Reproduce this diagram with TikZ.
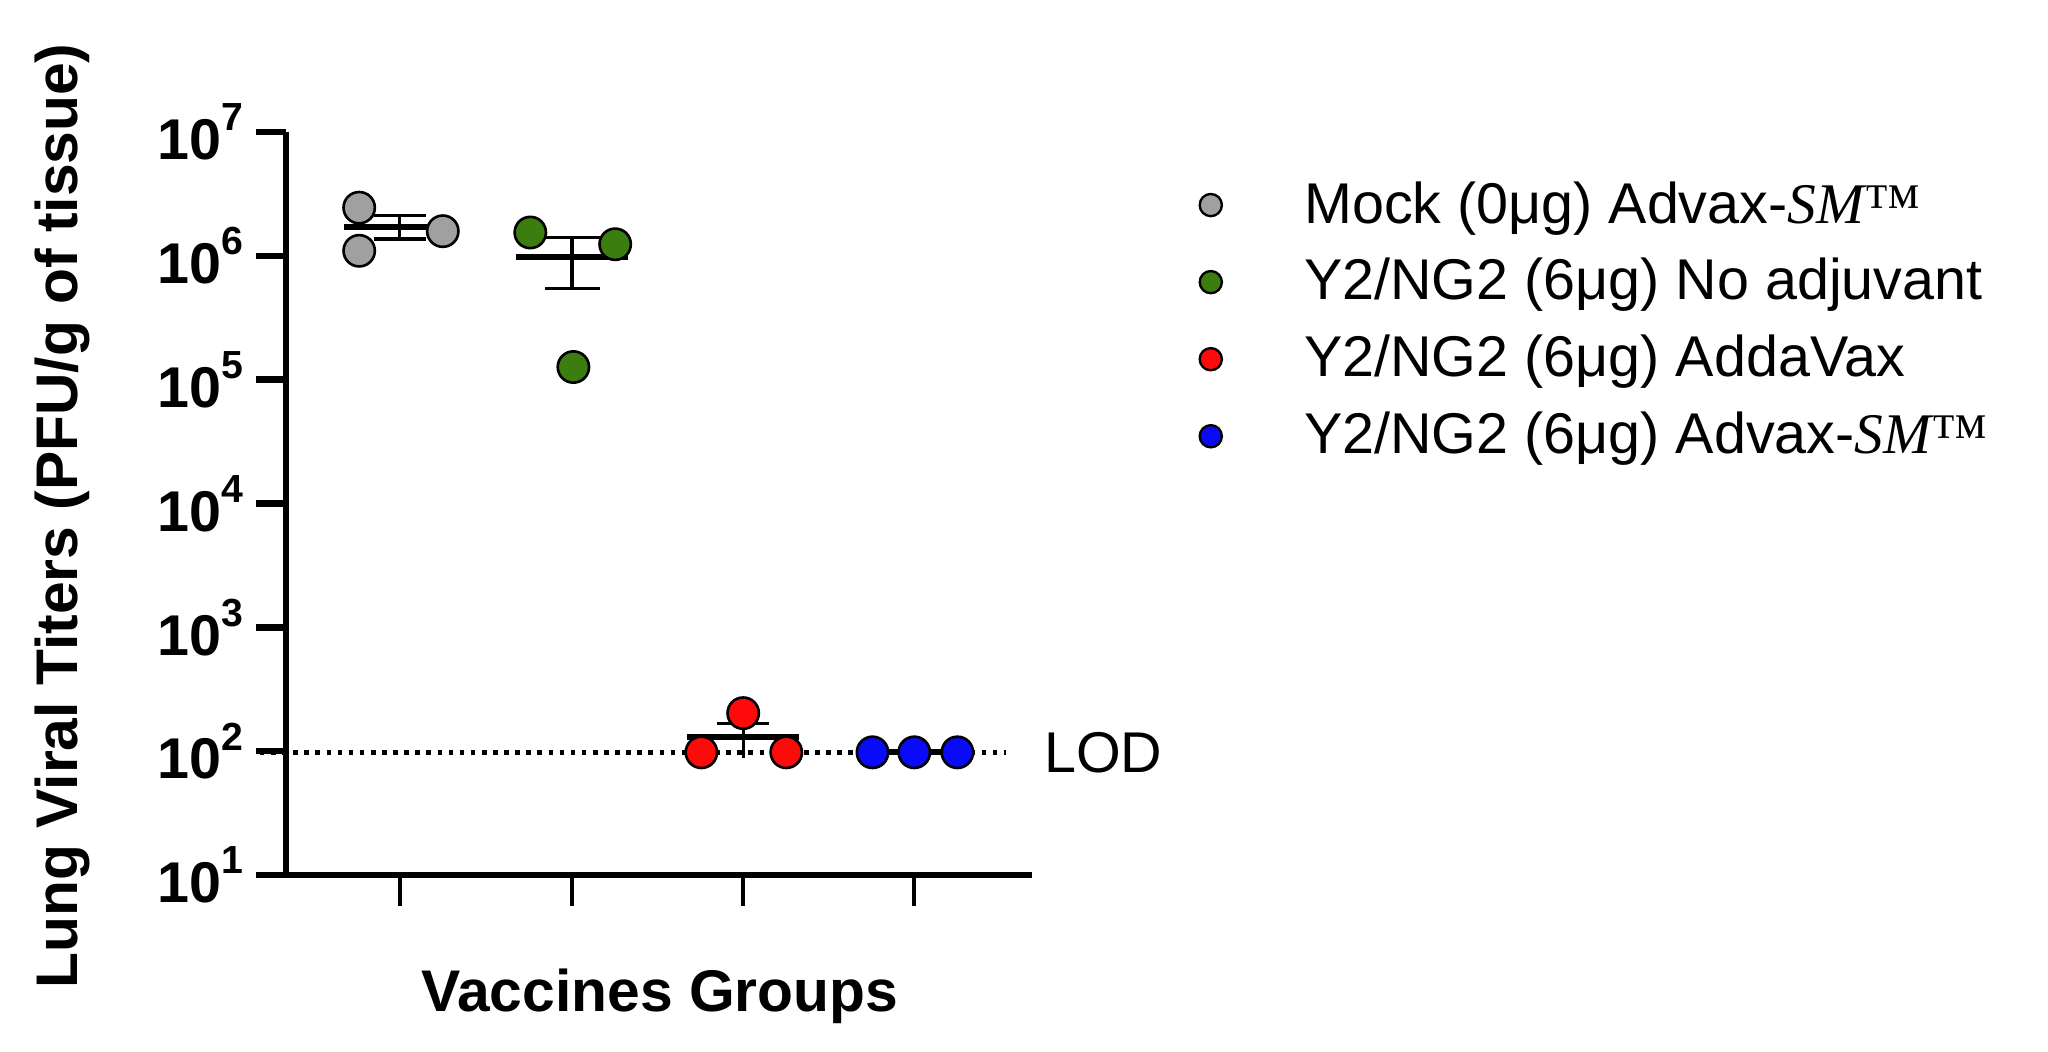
\documentclass[tikz,border=0pt]{standalone}
\usepackage{fontspec}
\setmainfont{Liberation Sans}
\newfontfamily\serifit{Liberation Serif}
\begin{document}
\begin{tikzpicture}[x=1pt,y=-1pt,
  ax/.style={line width=5pt},
  bar/.style={line width=2.5pt},
  mean/.style={line width=4.5pt},
  pt/.style={circle,draw=black,line width=2pt,minimum size=24pt,inner sep=0pt},
  lpt/.style={circle,draw=black,line width=1.8pt,minimum size=17pt,inner sep=0pt},
  tl/.style={anchor=east,font=\fontsize{44}{44}\selectfont\bfseries},
  lt/.style={anchor=west,font=\fontsize{44}{44}\selectfont}]
\useasboundingbox (0,0) rectangle (1568,805);
\definecolor{gr}{RGB}{160,160,160}
\definecolor{gn}{RGB}{60,125,15}
\definecolor{rd}{RGB}{255,10,10}
\definecolor{bl}{RGB}{10,10,250}
% LOD
\coordinate (l0) at (199,576); \coordinate (l1) at (770,576);
\draw[line width=3.5pt,dash pattern=on 3.5pt off 5pt] (l0) -- (l1);
\node[anchor=west,font=\fontsize{44}{44}\selectfont] (lod) at (796,576) {LOD};
% axes
\coordinate (o) at (219,670); \coordinate (top) at (219,101); \coordinate (xe) at (790,670);
\draw[ax] (top) -- (o) -- (xe);
\foreach \k in {1,...,7}{
  \pgfmathsetmacro\yy{101+(7-\k)*94.83}
  \draw[ax] (196,\yy) -- (219,\yy);
  \node[tl] (t\k) at (190,\yy) {10\raisebox{0.5em}{\fontsize{30}{30}\selectfont\k}};
}
\foreach \g/\xx in {1/306,2/438,3/569,4/700}{
  \draw[line width=3pt] (\xx,670) -- (\xx,694);
}
% gray
\draw[bar] (306,165)--(306,183) (286,165)--(326,165) (286,183)--(326,183);
\draw[mean] (263,174)--(349,174);
\node[pt,fill=gr] (g1) at (275,159) {};
\node[pt,fill=gr] (g2) at (275,192) {};
\node[pt,fill=gr] (g3) at (339,177) {};
% green
\draw[bar] (438,182)--(438,221) (417,221)--(459,221) (409,182)--(467,182);
\draw[mean] (395,197)--(481,197);
\node[pt,fill=gn] (n1) at (406,178) {};
\node[pt,fill=gn] (n2) at (471,187) {};
\node[pt,fill=gn] (n3) at (439,281) {};
% red
\draw[bar] (569,554)--(569,580) (549,554)--(589,554);
\draw[mean] (526,564)--(612,564);
\node[pt,fill=rd] (r1) at (537,576) {};
\node[pt,fill=rd] (r2) at (602,576) {};
\node[pt,fill=rd] (r3) at (569,546) {};
% blue
\draw[mean] (660,576)--(740,576);
\node[pt,fill=bl] (b1) at (668,576) {};
\node[pt,fill=bl] (b2) at (700,576) {};
\node[pt,fill=bl] (b3) at (733,576) {};
% labels
\node[rotate=90,font=\fontsize{45}{45}\selectfont\bfseries] (yl) at (48,395) {Lung Viral Titers (PFU/g of tissue)};
\node[font=\fontsize{45}{45}\selectfont\bfseries] (xl) at (505,763) {Vaccines Groups};
% legend
\node[lpt,fill=gr] (k1) at (927,157) {};
\node[lpt,fill=gn] (k2) at (927,216) {};
\node[lpt,fill=rd] (k3) at (927,275) {};
\node[lpt,fill=bl] (k4) at (927,334) {};
\node[lt] (m1) at (995,160) {Mock (0μg) Advax-{\serifit\itshape SM}{\serifit ™}};
\node[lt] (m2) at (995,218) {Y2/NG2 (6μg) No adjuvant};
\node[lt] (m3) at (995,277) {Y2/NG2 (6μg) AddaVax};
\node[lt] (m4) at (995,336) {Y2/NG2 (6μg) Advax-{\serifit\itshape SM}{\serifit ™}};
\end{tikzpicture}
\end{document}
